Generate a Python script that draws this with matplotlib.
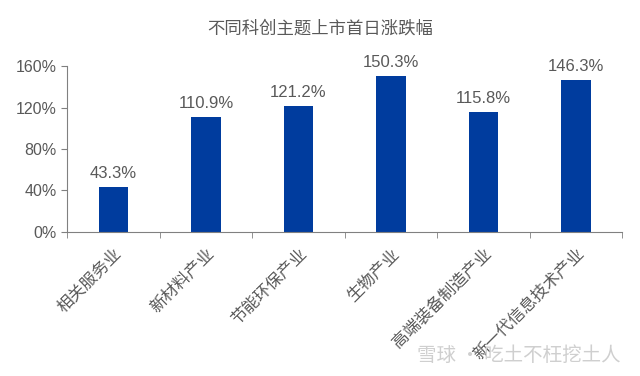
import matplotlib.pyplot as plt
from matplotlib.ticker import FixedLocator

plt.rcParams['font.family'] = ['Liberation Sans', 'Noto Sans CJK SC', 'DejaVu Sans']

categories = ["相关服务业", "新材料产业", "节能环保产业", "生物产业", "高端装备制造产业", "新一代信息技术产业"]
values = [43.3, 110.9, 121.2, 150.3, 115.8, 146.3]
yticks = [0, 40, 80, 120, 160]

grey = "#595959"
fig = plt.figure(figsize=(6.4, 3.76), dpi=100)
ax = fig.add_axes([0.105, 0.384, 0.867, 0.44])

x = range(len(categories))
ax.bar(x, values, width=0.32, color="#003C9E")
for i, v in enumerate(values):
    ax.text(i, v + 6, f"{v:.1f}%", ha="center", va="bottom", fontsize=12, color=grey)

ax.set_xlim(-0.5, len(categories) - 0.5)
ax.set_ylim(0, 160)
ax.set_yticks(yticks)
ax.set_yticklabels([f"{t}%" for t in yticks], fontsize=11.5, color=grey)

ax.set_xticks(list(x))
ax.set_xticklabels(categories, rotation=45, ha="right", rotation_mode="anchor",
                   fontsize=12, color=grey, family=['Noto Sans CJK SC', 'DejaVu Sans'])
ax.tick_params(axis="x", which="major", length=0, pad=10)
ax.xaxis.set_minor_locator(FixedLocator([i - 0.5 for i in range(len(categories) + 1)]))
ax.tick_params(axis="x", which="minor", length=4, direction="out", color="#808080")
ax.tick_params(axis="y", length=4, color="#808080")

for s in ["top", "right"]:
    ax.spines[s].set_visible(False)
for s in ["left", "bottom"]:
    ax.spines[s].set_color("#808080")

fig.text(0.5, 0.925, "不同科创主题上市首日涨跌幅", ha="center", va="center", fontsize=12.5, color=grey,
         family=['Noto Sans CJK SC', 'DejaVu Sans'])
fig.text(0.97, 0.055, "雪球 · 吃土不枉挖土人", ha="right", va="center", fontsize=14, color="#cfcfcf",
         family=['Noto Sans CJK SC', 'DejaVu Sans'])

fig.savefig("out.png", dpi=100)
